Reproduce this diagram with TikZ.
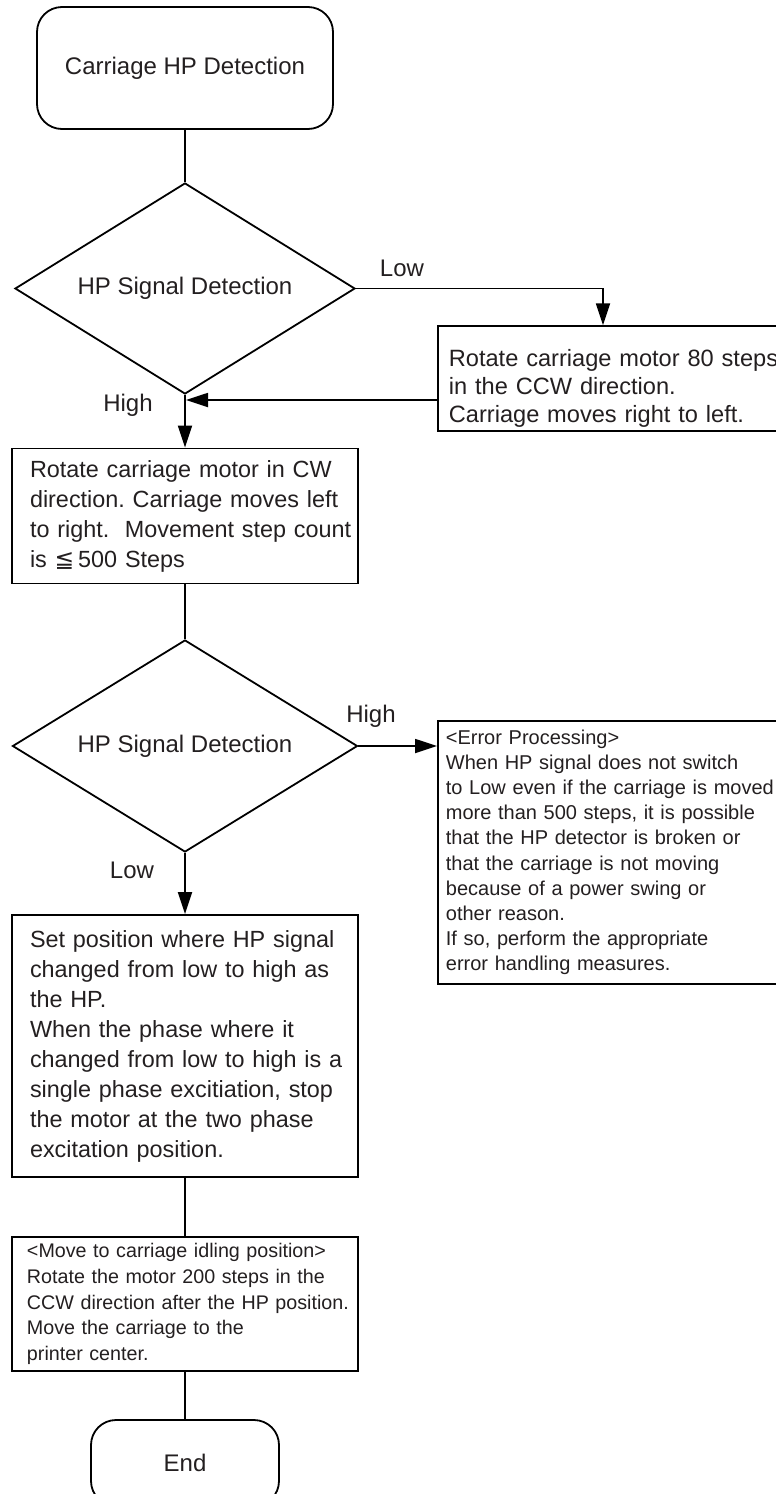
\documentclass[tikz,border=0pt]{standalone}
\usepackage{fontspec}
\setmainfont{Liberation Sans}
\newfontfamily\symfnt{DejaVu Sans}
\usetikzlibrary{shapes.geometric,arrows.meta}
\definecolor{txt}{HTML}{231F20}
\begin{document}
\frenchspacing
\begin{tikzpicture}[x=1pt,y=-1pt,
  big/.style={font=\fontsize{24}{30}\selectfont\frenchspacing},
  body/.style={font=\fontsize{23.4}{30}\selectfont\frenchspacing},
  small/.style={font=\fontsize{20}{25.2}\selectfont\frenchspacing},
  lbl/.style={big, text=txt, inner sep=0pt},
  termbox/.style={draw, line width=1.8pt, rounded corners=25pt, text=txt, big, inner sep=0pt},
  procbox/.style={draw, line width=1.8pt, align=left, text=txt, inner ysep=0pt},
  decbox/.style={diamond, draw, line width=1.8pt, shape aspect=1.6, text=txt, big, inner sep=0pt},
  conn/.style={line width=1.8pt},
  arr/.style={conn, -{Triangle[length=22pt,width=14pt]}}]
\clip (0,0) rectangle (776,1494);

\node[termbox, minimum width=296pt, minimum height=122pt] (start) at (185,68) {Carriage HP Detection};

\node[decbox, minimum width=340pt, minimum height=211pt] (d1) at (185,288.5) {HP Signal Detection};

\node[procbox, font=\fontsize{23.6}{28}\selectfont\frenchspacing, anchor=south west, inner xsep=11pt, inner ysep=4pt, text width=340pt] (box2) at (437,432)
  {\rule{0pt}{36pt}Rotate carriage motor 80 steps\\in the CCW direction.\\Carriage moves right to left.};

\node[procbox, body, inner xsep=18pt, text width=310pt, minimum height=135pt] (box3) at (185,516)
  {\mbox{Rotate carriage motor in CW}\\\mbox{direction. Carriage moves left}\\\mbox{to right.\ \ Movement step count}\\\mbox{is {\symfnt ≦}\,500 Steps}};

\node[decbox, minimum width=345pt, minimum height=212pt] (d2) at (185,746) {HP Signal Detection};

\node[procbox, small, anchor=north west, inner xsep=8pt, text width=340pt, minimum height=263pt] (box4) at (437,720)
  {<Error Processing>\\When HP signal does not switch\\to Low even if the carriage is moved\\more than 500 steps, it is possible\\that the HP detector is broken or\\that the carriage is not moving\\because of a power swing or\\other reason.\\If so, perform the appropriate\\error handling measures.};

\node[procbox, body, inner xsep=18pt, text width=310pt, minimum height=262pt] (box5) at (185,1046)
  {\mbox{Set position where HP signal}\\\mbox{changed from low to high as}\\\mbox{the HP.}\\\mbox{When the phase where it}\\\mbox{changed from low to high is a}\\\mbox{single phase excitiation, stop}\\\mbox{the motor at the two phase}\\\mbox{excitation position.}};

\node[procbox, font=\fontsize{19.7}{25.6}\selectfont\frenchspacing, inner xsep=15pt, text width=316pt, minimum height=134pt] (box6) at (185,1304)
  {\mbox{<Move to carriage idling position>}\\\mbox{Rotate the motor 200 steps in the}\\\mbox{CCW direction after the HP position.}\\\mbox{Move the carriage to the}\\\mbox{printer center.}};

\node[termbox, minimum width=188pt, minimum height=86pt] (end) at (185,1463) {End};

% labels
\node[lbl] (lowA) at (402,268) {Low};
\node[lbl] (highA) at (128,405) {High};
\node[lbl] (highB) at (371,716) {High};
\node[lbl] (lowB) at (132,870) {Low};

% connectors
\coordinate (lowc) at (603,288.5);
\coordinate (join) at (186,400);
\draw[conn] (start.south) -- (d1.north);
\draw[arr] (d1.east) -- (lowc) -- (lowc |- box2.north);
\draw[arr] (join -| box2.west) -- (join);
\draw[arr] (d1.south) -- (d1.south |- box3.north);
\draw[conn] (box3.south) -- (d2.north);
\draw[arr] (d2.east) -- (d2.east -| box4.west);
\draw[arr] (d2.south) -- (d2.south |- box5.north);
\draw[conn] (box5.south) -- (box5.south |- box6.north);
\draw[conn] (box6.south) -- (box6.south |- end.north);
\end{tikzpicture}
\end{document}
